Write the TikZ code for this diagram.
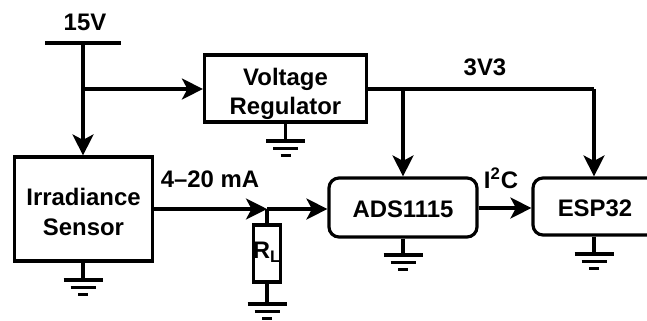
\documentclass[tikz,border=0pt]{standalone}
\usepackage{fontspec}
\setmainfont{Liberation Sans}
\usetikzlibrary{arrows.meta}
\newcommand{\toppad}[1]{\rule{0pt}{#1}}
\tikzset{
  wire/.style={line width=1.8pt},
  feed/.style={wire,-{Stealth[length=0.42cm,width=0.42cm,inset=0.11cm]}},
  boldtext/.style={font=\bfseries\fontsize{13.6}{16.8}\selectfont},
  gndbar/.pic={
    \draw[wire] (-0.39,0) -- (0.39,0);
    \draw[wire] (-0.25,-0.15) -- (0.25,-0.15);
    \draw[wire] (-0.1,-0.29) -- (0.1,-0.29);
  }
}
\begin{document}
\begin{tikzpicture}
      \useasboundingbox (0,0) rectangle (12.94,6.4);
      \begin{scope}[every node/.style={draw,line width=1.8pt,align=center,inner sep=0pt,boldtext}]
        \node[minimum width=3.24cm,minimum height=1.34cm] (reg) at (5.71,4.63) {\toppad{16pt}Voltage\\Regulator};
        \node[minimum width=2.76cm,minimum height=2.08cm] (sensor) at (1.67,2.22) {\toppad{13pt}Irradiance\\Sensor};
        \node[minimum width=0.54cm,minimum height=1.14cm] (rl) at (5.34,1.33) {};
        \node[rounded corners=0.2cm,minimum width=2.96cm,minimum height=1.18cm] (ads) at (8.06,2.25) {\toppad{11.2pt}ADS1115};
        \node[rounded corners=0.2cm,minimum width=2.48cm,minimum height=1.14cm] (esp) at (11.9,2.27) {\toppad{11.2pt}ESP32};
      \end{scope}
      \begin{scope}[every node/.style={boldtext}]
        \node (rllabel) at (5.34,1.36) {R\textsubscript{L}};
        \node (vin) at (1.7,5.95) {15V};
        \node (vout) at (9.7,5.05) {3V3};
        \node (loop) at (4.2,2.82) {4--20 mA};
        \node (bus) at (10.02,2.83) {I\textsuperscript{2}C};
      \end{scope}

      \coordinate (railL) at (0.9,5.54);
      \coordinate (railR) at (2.42,5.54);
      \coordinate (rail) at (1.66,5.54);
      \coordinate (tap) at (1.66,4.62);
      \coordinate (adsin) at (8.06,4.62);
      \coordinate (espin) at (11.88,4.62);
      \coordinate (join) at (5.34,2.22);
      \coordinate (g1) at (5.71,3.58);
      \coordinate (g2) at (1.66,0.8);
      \coordinate (g3) at (5.34,0.32);
      \coordinate (g4) at (8.06,1.3);
      \coordinate (g5) at (11.88,1.32);

      \draw[wire] (railL) -- (railR);
      \draw[feed] (rail) -- (sensor.north -| rail);
      \draw[feed] (tap) -- (reg.west |- tap);
      \draw[wire] (reg.east |- tap) -- (espin);
      \draw[feed] (adsin) -- (ads.north);
      \draw[feed] (espin) -- (esp.north -| espin);
      \draw[feed] (sensor.east |- join) -- (join);
      \draw[feed] (join) -- (ads.west |- join);
      \draw[wire] (join) -- (rl.north);
      \draw[feed] (ads.east |- 0,2.24) -- (esp.west |- 0,2.24);

      \draw[wire] (reg.south) -- (g1);
      \draw[wire] (sensor.south -| g2) -- (g2);
      \draw[wire] (rl.south) -- (g3);
      \draw[wire] (ads.south) -- (g4);
      \draw[wire] (esp.south -| g5) -- (g5);
      \foreach \g in {g1,g2,g3,g4,g5}
        \pic at (\g) {gndbar};
    \end{tikzpicture}
\end{document}
